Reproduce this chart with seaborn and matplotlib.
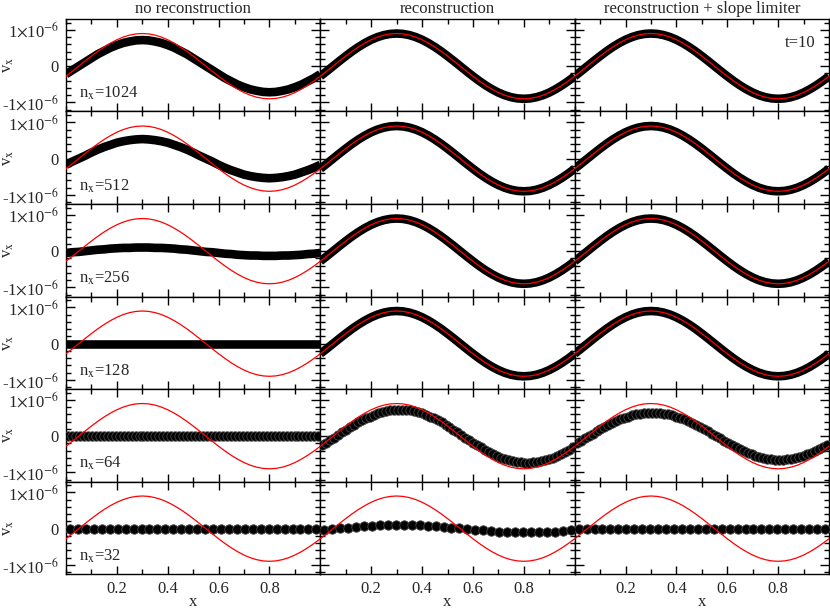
import numpy as np
import matplotlib
matplotlib.use("Agg")
import matplotlib.pyplot as plt
import seaborn as sns
from matplotlib.ticker import MultipleLocator, FixedLocator, FixedFormatter

# column titles and grid resolutions (rows)
titles = ['no reconstruction', 'reconstruction', 'reconstruction + slope limiter']
resolutions = [1024, 512, 256, 128, 64, 32]

# smooth curves sampled every 0.025 in x, values in units of 1e-6
x_curve = np.arange(41) * 0.025

v_exact = [-0.278, -0.141, 0.0, 0.141, 0.278, 0.409, 0.529, 0.636, 0.728, 0.802,
           0.856, 0.889, 0.900, 0.889, 0.856, 0.802, 0.728, 0.636, 0.529, 0.409,
           0.278, 0.141, 0.0, -0.141, -0.278, -0.409, -0.529, -0.636, -0.728, -0.802,
           -0.856, -0.889, -0.900, -0.889, -0.856, -0.802, -0.728, -0.636, -0.529, -0.409,
           -0.278]

v_norec_1024 = [-0.22, -0.11, 0.0, 0.11, 0.22, 0.33, 0.42, 0.51, 0.58, 0.64,
                0.68, 0.71, 0.72, 0.71, 0.68, 0.64, 0.58, 0.51, 0.42, 0.33,
                0.22, 0.11, 0.0, -0.11, -0.22, -0.33, -0.42, -0.51, -0.58, -0.64,
                -0.68, -0.71, -0.72, -0.71, -0.68, -0.64, -0.58, -0.51, -0.42, -0.33,
                -0.22]

v_norec_512 = [-0.17, -0.08, 0.0, 0.08, 0.17, 0.25, 0.32, 0.38, 0.44, 0.48,
               0.51, 0.53, 0.54, 0.53, 0.51, 0.48, 0.44, 0.38, 0.32, 0.25,
               0.17, 0.08, 0.0, -0.08, -0.17, -0.25, -0.32, -0.38, -0.44, -0.48,
               -0.51, -0.53, -0.54, -0.53, -0.51, -0.48, -0.44, -0.38, -0.32, -0.25,
               -0.17]

v_norec_256 = [-0.05, -0.03, -0.02, 0.0, 0.02, 0.04, 0.05, 0.07, 0.08, 0.09,
               0.09, 0.10, 0.10, 0.10, 0.09, 0.09, 0.08, 0.07, 0.05, 0.04,
               0.02, 0.0, -0.02, -0.03, -0.05, -0.07, -0.08, -0.10, -0.11, -0.12,
               -0.12, -0.13, -0.13, -0.13, -0.12, -0.12, -0.11, -0.10, -0.08, -0.07,
               -0.05]

v_norec_128 = [0.0] * 41  # flat

# cell centred values for the coarse grids
x_64 = (np.arange(64) + 0.5) / 64
v_norec_64 = [0.0] * 64  # flat
v_recon_64 = [-0.25, -0.18, -0.11, -0.04,
              0.04, 0.11, 0.18, 0.25, 0.31, 0.38, 0.44, 0.49, 0.54, 0.59, 0.63, 0.66, 0.69, 0.71, 0.72, 0.73,
              0.73, 0.72, 0.71, 0.69, 0.66, 0.63, 0.59, 0.54, 0.49, 0.44, 0.38, 0.31, 0.25, 0.18, 0.11, 0.04,
              -0.04, -0.11, -0.18, -0.25, -0.31, -0.38, -0.44, -0.49, -0.54, -0.59, -0.63, -0.66, -0.69, -0.71, -0.72, -0.73,
              -0.73, -0.72, -0.71, -0.69, -0.66, -0.63, -0.59, -0.54, -0.49, -0.44, -0.38, -0.31]
v_limit_64 = [-0.19, -0.13, -0.06,
              0.0, 0.06, 0.13, 0.19, 0.25, 0.31, 0.36, 0.41, 0.46, 0.50, 0.54, 0.57, 0.60, 0.62, 0.64, 0.65, 0.65,
              0.65, 0.64, 0.62, 0.60, 0.57, 0.54, 0.50, 0.46, 0.41, 0.36, 0.31, 0.25, 0.19, 0.13, 0.06, 0.0,
              -0.06, -0.13, -0.19, -0.25, -0.31, -0.36, -0.41, -0.46, -0.50, -0.54, -0.57, -0.60, -0.62, -0.64, -0.65, -0.65,
              -0.65, -0.64, -0.62, -0.60, -0.57, -0.54, -0.50, -0.46, -0.41, -0.36, -0.31, -0.25]

x_32 = (np.arange(32) + 0.5) / 32
v_norec_32 = [0.0] * 32  # flat
v_recon_32 = [-0.03, -0.01,
              0.01, 0.03, 0.05, 0.06, 0.08, 0.09, 0.10, 0.10,
              0.10, 0.10, 0.09, 0.08, 0.06, 0.05, 0.03, 0.01,
              -0.01, -0.03, -0.05, -0.06, -0.08, -0.09, -0.10, -0.10,
              -0.10, -0.10, -0.09, -0.08, -0.06, -0.05]
v_limit_32 = [0.0] * 32  # flat

# what goes in every panel: (kind, x, y)
panels = {
    (0, 0): ('band', x_curve, v_norec_1024),
    (1, 0): ('band', x_curve, v_norec_512),
    (2, 0): ('band', x_curve, v_norec_256),
    (3, 0): ('band', x_curve, v_norec_128),
    (4, 0): ('dots', x_64, v_norec_64),
    (5, 0): ('dots', x_32, v_norec_32),
    (4, 1): ('dots', x_64, v_recon_64),
    (5, 1): ('dots', x_32, v_recon_32),
    (4, 2): ('dots', x_64, v_limit_64),
    (5, 2): ('dots', x_32, v_limit_32),
}
for r in range(4):
    for c in (1, 2):
        panels[(r, c)] = ('band', x_curve, v_exact)


sns.set_style('ticks')
plt.rcParams['font.family'] = ['Liberation Serif', 'DejaVu Serif']
plt.rcParams['mathtext.fontset'] = 'stix'

fig, axes = plt.subplots(6, 3, figsize=(8.3, 6.09), dpi=100, sharex=True, sharey=True)
fig.subplots_adjust(left=66 / 830, right=829 / 830, top=1 - 19 / 609,
                    bottom=1 - 574 / 609, wspace=0, hspace=0)

ytick_labels = [r'-1$\times$10$^{-6}$', '0', r'1$\times$10$^{-6}$']

for r in range(6):
    for c in range(3):
        ax = axes[r, c]
        kind, xs, ys = panels[(r, c)]
        if kind == 'band':
            sns.lineplot(x=xs, y=ys, ax=ax, color='black', linewidth=6.2,
                         solid_capstyle='butt', sort=False)
        else:
            sns.scatterplot(x=xs, y=ys, ax=ax, color='black', s=46,
                            edgecolor='#4a4a4a', linewidth=0.6, zorder=3)
        sns.lineplot(x=x_curve, y=v_exact, ax=ax, color='red', linewidth=0.9,
                     sort=False, zorder=4)

        ax.set_xlim(0, 1)
        ax.set_ylim(-1.25, 1.3)
        ax.xaxis.set_major_locator(FixedLocator([0.2, 0.4, 0.6, 0.8]))
        ax.xaxis.set_major_formatter(FixedFormatter(['0.2', '0.4', '0.6', '0.8']))
        ax.xaxis.set_minor_locator(MultipleLocator(0.1))
        ax.yaxis.set_major_locator(FixedLocator([-1, 0, 1]))
        ax.yaxis.set_major_formatter(FixedFormatter(ytick_labels))
        ax.yaxis.set_minor_locator(MultipleLocator(0.2))

        ax.tick_params(which='both', direction='in', top=True, right=True,
                       width=1.0, color='black', labelsize=12)
        ax.tick_params(axis='x', which='major', length=6, pad=5)
        ax.tick_params(axis='x', which='minor', length=3.8)
        ax.tick_params(axis='y', which='major', length=6.5, pad=5)
        ax.tick_params(axis='y', which='minor', length=3.8)
        for side in ax.spines.values():
            side.set_linewidth(1.0)
            side.set_color('black')

        if c == 0:
            ax.set_ylabel(r'v$_\mathrm{x}$', fontsize=12)
            ax.yaxis.set_label_coords(-0.195, 0.5)
            ax.text(0.05, -0.87, r'n$_\mathrm{x}$=' + str(resolutions[r]),
                    fontsize=12, ha='left', va='baseline')
        else:
            ax.set_ylabel('')
        if r == 5:
            ax.set_xlabel('x', fontsize=12, labelpad=-2)
        if r == 0:
            ax.set_title(titles[c], fontsize=12, pad=4)

axes[0, 2].text(0.945, 0.63, 't=10', fontsize=12, ha='right', va='center')

fig.savefig('out.png', dpi=100)
